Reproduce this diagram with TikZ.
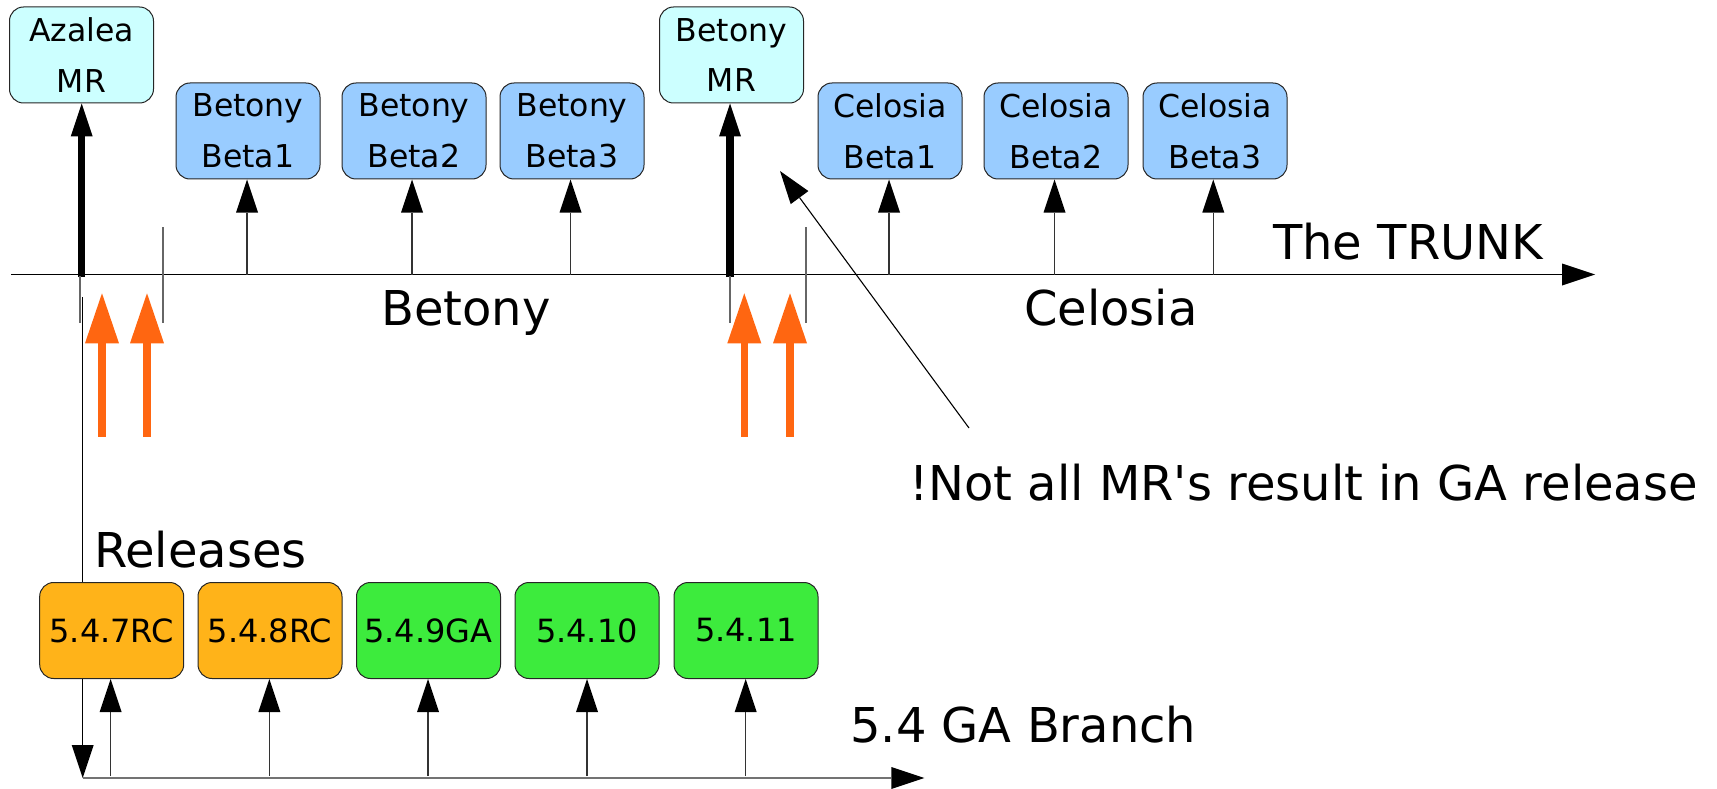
\documentclass[tikz,border=0pt]{standalone}
\usepackage{fontspec}
\setmainfont{DejaVu Sans}
\usetikzlibrary{arrows.meta}

\definecolor{mrcol}{HTML}{CCFFFF}
\definecolor{betacol}{HTML}{99CCFF}
\definecolor{rccol}{HTML}{FFB319}
\definecolor{gacol}{HTML}{3DEB3D}
\definecolor{mergecol}{HTML}{FF6611}

\newcommand\boxfont{\fontsize{31.5}{50.7}\selectfont}
\newcommand\relfont{\fontsize{32}{40}\selectfont}
\newcommand\bigfont{\fontsize{48}{58}\selectfont}
% straight apostrophe, set as a glyph so that no quote mapping applies
\newcommand\straightquote{\XeTeXglyph\XeTeXcharglyph"0027\relax}

\tikzset{
  box/.style={draw=black!85, line width=1pt, rounded corners=14pt,
    minimum width=144pt, minimum height=96pt, inner sep=0pt,
    align=center, font=\boxfont},
  mrbox/.style={box, fill=mrcol},
  betabox/.style={box, fill=betacol},
  rcbox/.style={box, fill=rccol, font=\relfont},
  gabox/.style={box, fill=gacol, font=\relfont},
  lbl/.style={anchor=base west, inner sep=0pt, font=\bigfont},
  tip/.style={-{Triangle[length=33pt,width=22pt,line width=0pt,color=black]}},
  axis/.style={tip, draw=black, line width=1.4pt},
  branchline/.style={tip, draw=black!55, line width=2pt},
  thinarrow/.style={tip, draw=black!80, line width=1.5pt},
  mrarrow/.style={tip, draw=black, line width=7.3pt},
  tick/.style={draw=black!60, line width=1.5pt},
  mergearrow/.style={-{Triangle[length=50pt,width=34pt,line width=0pt]},
    draw=mergecol, line width=7.3pt},
  note/.style={tip, draw=black, line width=1.1pt},
}

\begin{document}
\begin{tikzpicture}[x=1pt,y=-1pt]
\useasboundingbox (0,0) rectangle (1717,789);

% trunk
\coordinate (t0) at (11,274.5);
\coordinate (t1) at (1595,274.5);
\draw[axis] (t0) -- (t1);

% boxes on the trunk
\node[mrbox]   (azmr)  at (81.5,55)  {Azalea\\MR};
\node[betabox] (bb1)   at (248,131)  {Betony\\Beta1};
\node[betabox] (bb2)   at (414,131)  {Betony\\Beta2};
\node[betabox] (bb3)   at (572,131)  {Betony\\Beta3};
\node[mrbox]   (bemr)  at (731.5,55) {Betony\\MR};
\node[betabox] (cb1)   at (890,131)  {Celosia\\Beta1};
\node[betabox] (cb2)   at (1056,131) {Celosia\\Beta2};
\node[betabox] (cb3)   at (1215,131) {Celosia\\Beta3};

% trunk points where tags are cut
\coordinate (pa)  at (81.7,277);
\coordinate (pb)  at (730,277);
\coordinate (p1)  at (247,274.5);
\coordinate (p2)  at (412,274.5);
\coordinate (p3)  at (570.5,274.5);
\coordinate (p4)  at (889,274.5);
\coordinate (p5)  at (1054.5,274.5);
\coordinate (p6)  at (1213.3,274.5);

\draw[mrarrow] (pa) -- (pa |- azmr.south);
\draw[mrarrow] (pb) -- (pb |- bemr.south);
\draw[thinarrow] (p1) -- (p1 |- bb1.south);
\draw[thinarrow] (p2) -- (p2 |- bb2.south);
\draw[thinarrow] (p3) -- (p3 |- bb3.south);
\draw[thinarrow] (p4) -- (p4 |- cb1.south);
\draw[thinarrow] (p5) -- (p5 |- cb2.south);
\draw[thinarrow] (p6) -- (p6 |- cb3.south);

% cycle boundaries
\coordinate (ka0) at (80,276);    \coordinate (ka1) at (80,323);
\coordinate (kb0) at (163,227);   \coordinate (kb1) at (163,323);
\coordinate (kc0) at (730,276);   \coordinate (kc1) at (730,323);
\coordinate (kd0) at (806,227);   \coordinate (kd1) at (806,323);
\draw[tick] (ka0) -- (ka1);
\draw[tick] (kb0) -- (kb1);
\draw[tick] (kc0) -- (kc1);
\draw[tick] (kd0) -- (kd1);

% merges back into the trunk
\coordinate (m1a) at (102,436.7);  \coordinate (m1b) at (102,293.3);
\coordinate (m2a) at (147,436.7);  \coordinate (m2b) at (147,293.3);
\coordinate (m3a) at (744.3,436.7); \coordinate (m3b) at (744.3,293.3);
\coordinate (m4a) at (790,436.7);  \coordinate (m4b) at (790,293.3);
\draw[mergearrow] (m1a) -- (m1b);
\draw[mergearrow] (m2a) -- (m2b);
\draw[mergearrow] (m3a) -- (m3b);
\draw[mergearrow] (m4a) -- (m4b);

% trunk labels
\node[lbl] (trunklbl) at (1273,259) {The TRUNK};
\node[lbl] (betlbl)   at (381,325)  {Betony};
\node[lbl] (cellbl)   at (1024,325) {Celosia};

% remark
\node[lbl] (remark) at (909,500) {!Not all MR\straightquote s result in GA release};
\coordinate (n0) at (969,428);
\coordinate (n1) at (780,171);
\draw[note] (n0) -- (n1);

% GA branch
\coordinate (d0) at (82.7,297);
\coordinate (b0) at (82.7,778);
\coordinate (b1) at (924.3,778);
\draw[thinarrow, draw=black] (d0) -- (b0);
\draw[branchline] (b0) -- (b1);

\node[lbl] (rellbl) at (94,567.7) {Releases};
\node[lbl] (brlbl)  at (850,742)  {5.4 GA Branch};

\node[rcbox] (r7)  at (111.7,630.5) {5.4.7RC};
\node[rcbox] (r8)  at (270,630.5)   {5.4.8RC};
\node[gabox] (r9)  at (428.5,630.5) {5.4.9GA};
\node[gabox] (r10) at (587,630.5)   {5.4.10};
\node[gabox] (r11) at (746,630.5)   {5.4.11};

\coordinate (q7)  at (110.6,776);
\coordinate (q8)  at (269.4,776);
\coordinate (q9)  at (428,776);
\coordinate (q10) at (587,776);
\coordinate (q11) at (745.7,776);
\draw[thinarrow] (q7)  -- (q7 |- r7.south);
\draw[thinarrow] (q8)  -- (q8 |- r8.south);
\draw[thinarrow] (q9)  -- (q9 |- r9.south);
\draw[thinarrow] (q10) -- (q10 |- r10.south);
\draw[thinarrow] (q11) -- (q11 |- r11.south);
\end{tikzpicture}
\end{document}
